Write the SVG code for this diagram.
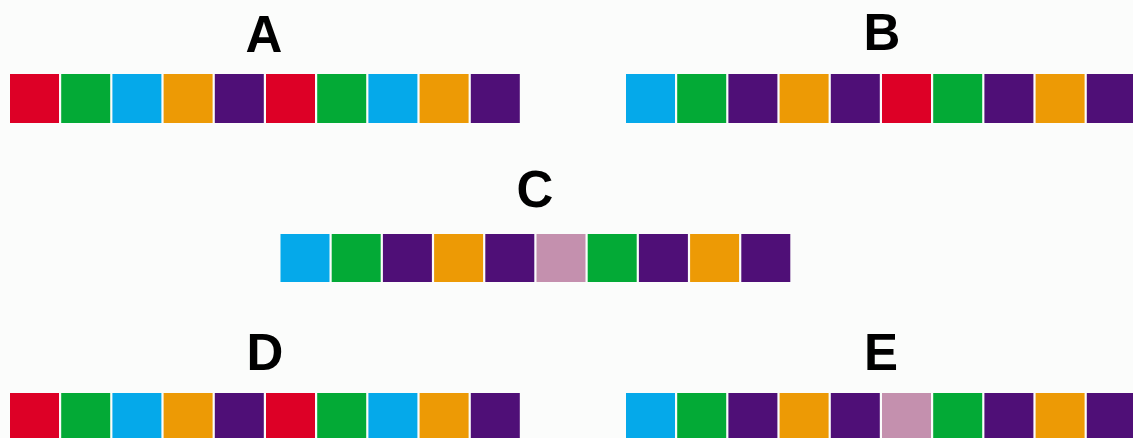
<svg xmlns="http://www.w3.org/2000/svg" width="1133" height="438" viewBox="0 0 1133 438">
<defs>
<style>
.r{fill:#DD0026}.g{fill:#03AA36}.b{fill:#05A9EA}.o{fill:#ED9A05}.p{fill:#4F0F77}.k{fill:#C490AE}
.lbl{font-family:"Liberation Sans",Arial,sans-serif;font-weight:bold;font-size:51px;fill:#000;text-anchor:middle}
</style>
</defs>
<rect width="1133" height="438" fill="#FBFCFB"/>
<g id="A">
<text class="lbl" x="264" y="52">A</text>
<g transform="translate(10,74)">
<rect class="r" x="0" width="49" height="49"/><rect class="g" x="51.2" width="49" height="49"/><rect class="b" x="102.4" width="49" height="49"/><rect class="o" x="153.6" width="49" height="49"/><rect class="p" x="204.8" width="49" height="49"/><rect class="r" x="256" width="49" height="49"/><rect class="g" x="307.2" width="49" height="49"/><rect class="b" x="358.4" width="49" height="49"/><rect class="o" x="409.6" width="49" height="49"/><rect class="p" x="460.8" width="49" height="49"/>
</g>
</g>
<g id="B">
<text class="lbl" x="882" y="50">B</text>
<g transform="translate(626,74)">
<rect class="b" x="0" width="49" height="49"/><rect class="g" x="51.2" width="49" height="49"/><rect class="p" x="102.4" width="49" height="49"/><rect class="o" x="153.6" width="49" height="49"/><rect class="p" x="204.8" width="49" height="49"/><rect class="r" x="256" width="49" height="49"/><rect class="g" x="307.2" width="49" height="49"/><rect class="p" x="358.4" width="49" height="49"/><rect class="o" x="409.6" width="49" height="49"/><rect class="p" x="460.8" width="49" height="49"/>
</g>
</g>
<g id="C">
<text class="lbl" x="535" y="207">C</text>
<g transform="translate(280.5,234)">
<rect class="b" x="0" width="49" height="48"/><rect class="g" x="51.2" width="49" height="48"/><rect class="p" x="102.4" width="49" height="48"/><rect class="o" x="153.6" width="49" height="48"/><rect class="p" x="204.8" width="49" height="48"/><rect class="k" x="256" width="49" height="48"/><rect class="g" x="307.2" width="49" height="48"/><rect class="p" x="358.4" width="49" height="48"/><rect class="o" x="409.6" width="49" height="48"/><rect class="p" x="460.8" width="49" height="48"/>
</g>
</g>
<g id="D">
<text class="lbl" x="265" y="370">D</text>
<g transform="translate(10,393)">
<rect class="r" x="0" width="49" height="49"/><rect class="g" x="51.2" width="49" height="49"/><rect class="b" x="102.4" width="49" height="49"/><rect class="o" x="153.6" width="49" height="49"/><rect class="p" x="204.8" width="49" height="49"/><rect class="r" x="256" width="49" height="49"/><rect class="g" x="307.2" width="49" height="49"/><rect class="b" x="358.4" width="49" height="49"/><rect class="o" x="409.6" width="49" height="49"/><rect class="p" x="460.8" width="49" height="49"/>
</g>
</g>
<g id="E">
<text class="lbl" x="881" y="370">E</text>
<g transform="translate(626,393)">
<rect class="b" x="0" width="49" height="49"/><rect class="g" x="51.2" width="49" height="49"/><rect class="p" x="102.4" width="49" height="49"/><rect class="o" x="153.6" width="49" height="49"/><rect class="p" x="204.8" width="49" height="49"/><rect class="k" x="256" width="49" height="49"/><rect class="g" x="307.2" width="49" height="49"/><rect class="p" x="358.4" width="49" height="49"/><rect class="o" x="409.6" width="49" height="49"/><rect class="p" x="460.8" width="49" height="49"/>
</g>
</g>
<g id="connectors"/>
</svg>
